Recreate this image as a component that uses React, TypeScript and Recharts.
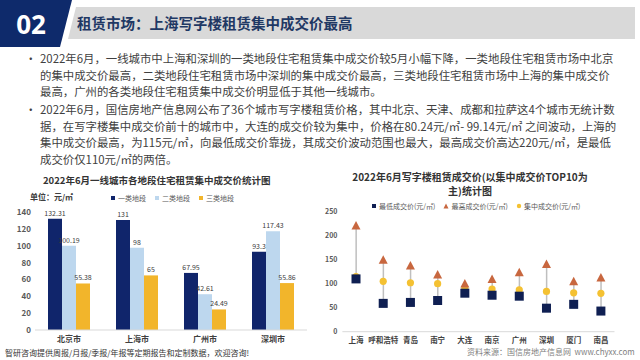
import React from "react";
import {
    BarChart,
    Bar,
    XAxis,
    YAxis,
    LabelList,
    ComposedChart,
    Line,
} from "recharts";

// left chart: residential rent by district tier
const cities = ["北京市", "上海市", "广州市", "深圳市"];
const tier1 = [132.31, 131, 67.95, 93.3];
const tier2 = [100.19, 98, 42.61, 117.43];
const tier3 = [55.38, 65, 24.49, 55.86];
const residentialTicks = [0, 20, 40, 60, 80, 100, 120, 140];

// right chart: office rent, top 10 by center price
const officeCities = ["上海", "呼和浩特", "青岛", "南宁", "大连", "南京", "广州", "深圳", "厦门", "南昌"];
const lowPrice = [110, 59, 61, 65, 80.24, 76, 74, 49, 57, 43];
const highPrice = [220, 149, 137, 118, 99.14, 109, 123, 140, 104, 112];
const centerPrice = [115, 105, 102, 100, 90, 89, 87, 84, 81, 80];
const officeTicks = [0, 50, 100, 150, 200, 250];

const para1 = [
    "2022年6月，一线城市中上海和深圳的一类地段住宅租赁集中成交价较5月小幅下降，一类地段住宅租赁市场中北京",
    "的集中成交价最高，二类地段住宅租赁市场中深圳的集中成交价最高，三类地段住宅租赁市场中上海的集中成交价",
    "最高，广州的各类地段住宅租赁集中成交价明显低于其他一线城市。",
];
const para2 = [
    "2022年6月，国信房地产信息网公布了36个城市写字楼租赁价格，其中北京、天津、成都和拉萨这4个城市无统计数",
    "据，在写字楼集中成交价前十的城市中，大连的成交价较为集中，价格在80.24元/㎡- 99.14元/㎡ 之间波动，上海的",
    "集中成交价最高，为115元/㎡，向最低成交价靠拢，其成交价波动范围也最大，最高成交价高达220元/㎡，是最低",
    "成交价仅110元/㎡的两倍。",
];

const residentialData = cities.map((name, i) => ({
    name,
    t1: tier1[i],
    t2: tier2[i],
    t3: tier3[i],
}));

const officeData = officeCities.map((name, i) => ({
    name,
    low: lowPrice[i],
    high: highPrice[i],
    center: centerPrice[i],
}));

const NAVY = "#10256B";
const LIGHT = "#BDD7EE";
const YELLOW = "#F2B52B";
const FONT = "'Noto Sans CJK SC', 'Noto Sans', sans-serif";
const LINE_H = 16.5;

const squareDot = (props: any) => {
    const {cx, cy, index} = props;
    if (cx == null || cy == null) return <g key={index}/>;
    return <rect key={index} x={cx - 4.5} y={cy - 4.5} width={9} height={9} fill="#0F1F52"/>;
};

const triangleDot = (props: any) => {
    const {cx, cy, index} = props;
    if (cx == null || cy == null) return <g key={index}/>;
    return (
        <polygon
            key={index}
            points={`${cx},${cy - 5} ${cx - 4.5},${cy + 3.5} ${cx + 4.5},${cy + 3.5}`}
            fill="#C8673F"
        />
    );
};

const circleDot = (props: any) => {
    const {cx, cy, index} = props;
    if (cx == null || cy == null) return <g key={index}/>;
    return <circle key={index} cx={cx} cy={cy} r={3.6} fill="#F4C132"/>;
};

const TextLines = ({lines, top}: { lines: string[]; top: number }) => (
    <div style={{position: "absolute", left: 0, top, width: 640}}>
        <span style={{position: "absolute", left: 25, top: 0, fontSize: 11.5, lineHeight: `${LINE_H}px`, color: "#404040"}}>•</span>
        {lines.map((l, i) => (
            <div
                key={i}
                style={{
                    position: "absolute",
                    left: 40,
                    top: i * LINE_H,
                    fontSize: 11.4,
                    lineHeight: `${LINE_H}px`,
                    whiteSpace: "nowrap",
                    color: "#404040",
                }}
            >
                {l}
            </div>
        ))}
    </div>
);

const LegendItem = ({color, label, shape}: { color: string; label: string; shape: string }) => (
    <span style={{display: "inline-flex", alignItems: "center", marginRight: 8}}>
        <svg width={6} height={6} style={{marginRight: 2}}>
            {shape === "square" && <rect x={1} y={1} width={4} height={4} fill={color}/>}
            {shape === "triangle" && <polygon points="3,0.5 0.5,5.5 5.5,5.5" fill={color}/>}
            {shape === "circle" && <circle cx={3} cy={3} r={2.2} fill={color}/>}
        </svg>
        {label}
    </span>
);

const App = () => {
    return (
        <div
            style={{
                position: "absolute",
                left: 0,
                top: 0,
                width: 640,
                height: 360,
                overflow: "hidden",
                background: "#FFFFFF",
                fontFamily: FONT,
            }}
        >
            {/* header */}
            <svg width={640} height={50} style={{position: "absolute", left: 0, top: 0}}>
                <polygon points="76,7 635,7 635,39 68,39" fill="#D9D9D9"/>
                <polygon points="0,0 72,0 60,47 0,47" fill="#0E2A6B"/>
                <text x={31} y={34} textAnchor="middle" fontSize={26} fontWeight={700} fill="#FFFFFF"
                      fontFamily="'Noto Sans', sans-serif">02</text>
                <text x={77} y={29} fontSize={14.5} fontWeight={700} fill="#1F3864" fontFamily={FONT}>
                    租赁市场：上海写字楼租赁集中成交价最高
                </text>
            </svg>

            <TextLines lines={para1} top={50}/>
            <TextLines lines={para2} top={101}/>

            {/* left chart */}
            <div style={{position: "absolute", left: 43, top: 173, width: 226, fontSize: 9.5, fontWeight: 600, color: "#333333", whiteSpace: "nowrap"}}>
                2022年6月一线城市各地段住宅租赁集中成交价统计图
            </div>
            <div style={{position: "absolute", left: 30, top: 191, fontSize: 8, fontWeight: 700, color: "#404040", whiteSpace: "nowrap"}}>
                单位：元/㎡
            </div>
            <div style={{position: "absolute", left: 110, top: 193, fontSize: 7, color: "#595959", whiteSpace: "nowrap", display: "flex"}}>
                <LegendItem color={NAVY} label="一类地段" shape="square"/>
                <LegendItem color={LIGHT} label="二类地段" shape="square"/>
                <LegendItem color={YELLOW} label="三类地段" shape="square"/>
            </div>
            <div style={{position: "absolute", left: 0, top: 190}}>
                <BarChart
                    width={320}
                    height={170}
                    data={residentialData}
                    margin={{top: 22.4, right: 13, bottom: 0, left: 10}}
                    barGap={0}
                >
                    <XAxis
                        dataKey="name"
                        axisLine={{stroke: "#D9D9D9"}}
                        tickLine={false}
                        tickSize={4}
                        tickMargin={2}
                        height={30}
                        interval={0}
                        tick={{fontSize: 8, fontWeight: 700, fill: "#404040"}}
                    />
                    <YAxis
                        domain={[0, 140]}
                        ticks={residentialTicks}
                        axisLine={false}
                        tickLine={false}
                        tickSize={4}
                        tickMargin={0}
                        width={25}
                        interval={0}
                        tick={{fontSize: 8, fontWeight: 700, fill: "#595959"}}
                    />
                    <Bar dataKey="t1" fill={NAVY} barSize={14} isAnimationActive={false}>
                        <LabelList dataKey="t1" position="top" offset={3} fontSize={7} fill="#404040"/>
                    </Bar>
                    <Bar dataKey="t2" fill={LIGHT} barSize={14} isAnimationActive={false}>
                        <LabelList dataKey="t2" position="top" offset={3} fontSize={7} fill="#404040"/>
                    </Bar>
                    <Bar dataKey="t3" fill={YELLOW} barSize={14} isAnimationActive={false}>
                        <LabelList dataKey="t3" position="top" offset={3} fontSize={7} fill="#404040"/>
                    </Bar>
                </BarChart>
            </div>

            {/* right chart */}
            <div style={{position: "absolute", left: 330, top: 170, width: 280, textAlign: "center", fontSize: 10, lineHeight: "13.5px", fontWeight: 700, color: "#333333"}}>
                2022年6月写字楼租赁成交价(以集中成交价TOP10为<br/>主)统计图
            </div>
            <div style={{position: "absolute", left: 371, top: 201, fontSize: 7, color: "#595959", whiteSpace: "nowrap", display: "flex"}}>
                <LegendItem color="#0F1F52" label="最低成交价(元/㎡)" shape="square"/>
                <LegendItem color="#C8673F" label="最高成交价(元/㎡)" shape="triangle"/>
                <LegendItem color="#F4C132" label="集中成交价(元/㎡)" shape="circle"/>
            </div>
            <div style={{position: "absolute", left: 320, top: 190}}>
                <ComposedChart
                    width={320}
                    height={170}
                    data={officeData}
                    margin={{top: 21.7, right: 25.5, bottom: 0, left: 4.4}}
                >
                    <XAxis
                        dataKey="name"
                        axisLine={{stroke: "#D9D9D9"}}
                        tickLine={false}
                        tickSize={4}
                        tickMargin={2}
                        height={28.3}
                        interval={0}
                        tick={{fontSize: 7.5, fontWeight: 700, fill: "#404040"}}
                    />
                    <YAxis
                        domain={[0, 250]}
                        ticks={officeTicks}
                        axisLine={false}
                        tickLine={false}
                        tickSize={5}
                        tickMargin={0}
                        width={18}
                        interval={0}
                        tick={{fontSize: 7, fontWeight: 700, fill: "#595959"}}
                    />
                    <Bar
                        dataKey={(d: any) => [d.low, d.high]}
                        fill="#BFBFBF"
                        barSize={1.5}
                        isAnimationActive={false}
                    />
                    <Line dataKey="center" stroke="none" dot={circleDot} activeDot={false} isAnimationActive={false}/>
                    <Line dataKey="low" stroke="none" dot={squareDot} activeDot={false} isAnimationActive={false}/>
                    <Line dataKey="high" stroke="none" dot={triangleDot} activeDot={false} isAnimationActive={false}/>
                </ComposedChart>
            </div>

            {/* footer */}
            <div style={{position: "absolute", left: 5, top: 347, fontSize: 8, color: "#333333", whiteSpace: "nowrap"}}>
                智研咨询提供周报/月报/季报/年报等定期报告和定制数据，欢迎咨询!
            </div>
            <div style={{position: "absolute", left: 467, top: 346, fontSize: 8, color: "#7F7F7F", whiteSpace: "nowrap"}}>
                资料来源：国信房地产信息网&nbsp;&nbsp;www.chyxx.com
            </div>
        </div>
    );
};

export default App;
